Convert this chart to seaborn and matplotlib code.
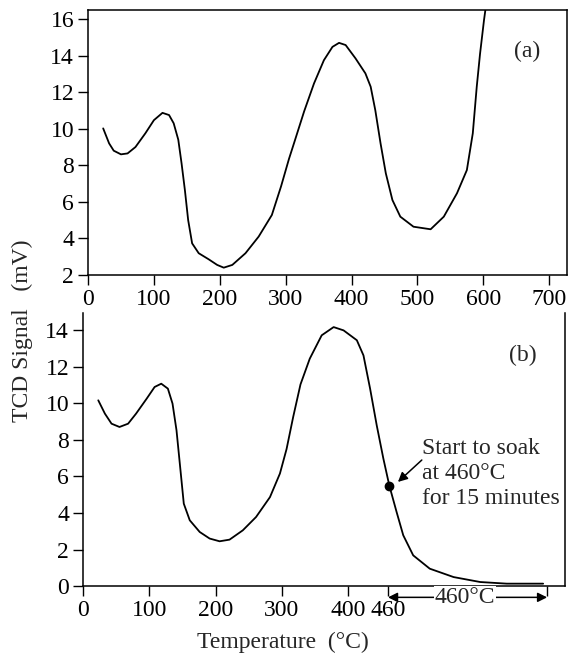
import numpy as np
import pandas as pd
import matplotlib
matplotlib.use("Agg")
import matplotlib.pyplot as plt
import seaborn as sns

# panel (a): TCD signal vs temperature
temp_a = [23, 32, 39, 50, 60, 72, 87, 100, 113, 123, 130, 137, 142, 147, 152,
          158, 168, 183, 196, 206, 219, 239, 259, 279, 293, 305, 313, 328, 343,
          358, 371, 381, 391, 406, 421, 429, 436, 444, 452, 462, 474, 494, 520,
          540, 560, 575, 584, 590, 595, 601, 605]
signal_a = [10.02, 9.2, 8.8, 8.6, 8.65, 9.0, 9.75, 10.47, 10.87, 10.75, 10.3, 9.4,
            8.1, 6.65, 5.0, 3.73, 3.19, 2.86, 2.55, 2.4, 2.55, 3.19, 4.1, 5.28,
            6.85, 8.35, 9.25, 10.95, 12.48, 13.75, 14.48, 14.7, 14.58, 13.85,
            13.03, 12.3, 11.02, 9.2, 7.56, 6.1, 5.19, 4.64, 4.5, 5.19, 6.47, 7.74,
            9.75, 12.3, 14.1, 15.94, 17.0]

# panel (b): ramp to 460 then soak
temp_b = [23, 33, 43, 55, 68, 80, 96, 108, 118, 128, 135, 141, 147, 152, 161,
          176, 191, 206, 221, 241, 261, 282, 297, 307, 317, 328, 342, 360, 378,
          393, 413, 423, 433, 443, 453, 462, 473, 483, 498, 523, 559, 599, 639,
          694]
signal_b = [10.17, 9.44, 8.89, 8.71, 8.89, 9.44, 10.26, 10.9, 11.08, 10.81, 9.99,
            8.53, 6.34, 4.51, 3.6, 2.96, 2.6, 2.45, 2.54, 3.05, 3.78, 4.87, 6.16,
            7.5, 9.26, 11.04, 12.45, 13.73, 14.18, 14.0, 13.46, 12.63, 10.81, 8.8,
            6.98, 5.5, 4.05, 2.78, 1.68, 0.95, 0.49, 0.22, 0.13, 0.13]

soak_temp = 460
soak_point = (462, 5.5)
soak_end = 700

ticks_a = [0, 100, 200, 300, 400, 500, 600, 700]
ticks_b = [0, 100, 200, 300, 400, 460, 700]
tick_labels_b = ["0", "100", "200", "300", "400", "460", ""]

df_a = pd.DataFrame({"T": temp_a, "S": signal_a})
df_b = pd.DataFrame({"T": temp_b, "S": signal_b})

sns.set_style("ticks")
plt.rcParams["font.family"] = ["Liberation Serif", "DejaVu Serif"]
FS = 17

fig = plt.figure(figsize=(5.69, 6.55), dpi=100)
ax1 = fig.add_axes([0.1547, 0.5802, 0.8418, 0.4046])
ax2 = fig.add_axes([0.1459, 0.1053, 0.8471, 0.4168])

sns.lineplot(data=df_a, x="T", y="S", ax=ax1, color="black", lw=1.3,
             sort=False, estimator=None)
sns.lineplot(data=df_b, x="T", y="S", ax=ax2, color="black", lw=1.3,
             sort=False, estimator=None)

for ax in (ax1, ax2):
    ax.set_xlabel("")
    ax.set_ylabel("")
    ax.set_xlim(0, 727)
    ax.tick_params(direction="out", length=7, width=1, pad=3,
                   labelsize=FS, colors="black")
    for s in ax.spines.values():
        s.set_linewidth(1.1)
        s.set_color("black")

ax1.set_ylim(2, 16.5)
ax1.set_yticks(range(2, 17, 2))
ax1.set_xticks(ticks_a)
ax1.text(0.916, 0.843, "(a)", transform=ax1.transAxes, ha="center",
         va="center", fontsize=FS)

ax2.set_ylim(0, 14.95)
ax2.set_yticks(range(0, 15, 2))
ax2.set_xticks(ticks_b)
ax2.set_xticklabels(tick_labels_b)
ax2.spines["top"].set_visible(False)
ax2.text(0.913, 0.846, "(b)", transform=ax2.transAxes, ha="center",
         va="center", fontsize=FS)

ax2.plot([soak_point[0]], [soak_point[1]], "o", color="black", ms=6)
ax2.annotate("", xy=(475, 5.7), xytext=(511, 6.9),
             arrowprops=dict(arrowstyle="-|>", color="black", lw=1.1,
                             mutation_scale=14, shrinkA=0, shrinkB=0))
ax2.text(511, 6.17, "Start to soak\nat 460\u00b0C\nfor 15 minutes",
         ha="left", va="center", fontsize=FS, linespacing=1.24)

ax2.annotate("", xy=(soak_temp, -0.62), xytext=(soak_end, -0.62),
             xycoords="data", annotation_clip=False,
             arrowprops=dict(arrowstyle="<|-|>", color="black", lw=1.1,
                             mutation_scale=14, shrinkA=0, shrinkB=0))
ax2.text(576, -0.62, "460\u00b0C", ha="center", va="center", fontsize=FS,
         bbox=dict(facecolor="white", edgecolor="none", pad=0.5), clip_on=False)

fig.text(283 / 569, 1 - 642 / 655, "Temperature  (\u00b0C)", ha="center",
         va="center", fontsize=FS)
fig.text(22 / 569, 1 - 331 / 655, "TCD Signal   (mV)", ha="center",
         va="center", rotation=90, fontsize=FS)

fig.savefig("out.png", dpi=100)
